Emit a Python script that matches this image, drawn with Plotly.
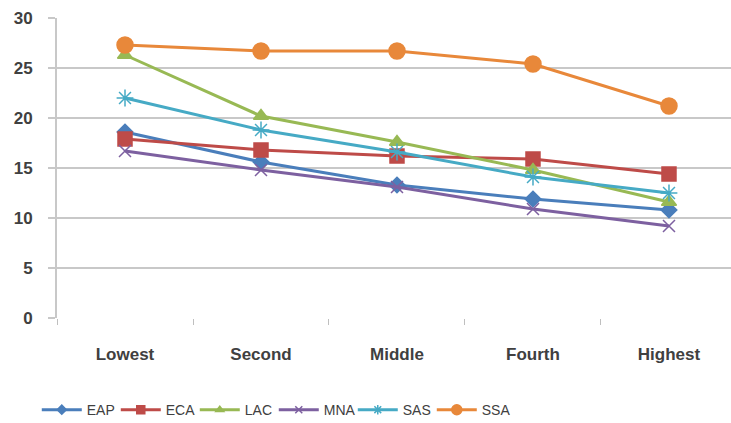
import plotly.graph_objects as go

quintiles = ["Lowest", "Second", "Middle", "Fourth", "Highest"]

eap = [18.6, 15.6, 13.3, 11.9, 10.8]
eca = [17.9, 16.8, 16.2, 15.9, 14.4]
lac = [26.3, 20.2, 17.6, 14.8, 11.6]
mna = [16.7, 14.8, 13.1, 10.9, 9.2]
sas = [22.0, 18.8, 16.6, 14.1, 12.5]
ssa = [27.3, 26.7, 26.7, 25.4, 21.2]

y_ticks = [0, 5, 10, 15, 20, 25, 30]

series = [
    ("EAP", eap, "#4A7EBB", "diamond", 12),
    ("ECA", eca, "#BE4B48", "square", 14),
    ("LAC", lac, "#98B954", "triangle-up", 13),
    ("MNA", mna, "#7D60A0", "x-thin-open", 12),
    ("SAS", sas, "#46AAC5", "asterisk-open", 14),
    ("SSA", ssa, "#E8883A", "circle", 16),
]

fig = go.Figure()
for name, vals, color, symbol, size in series:
    # plotted series
    fig.add_trace(go.Scatter(
        x=quintiles, y=vals, name=name, mode="lines+markers",
        legendgroup=name, showlegend=False,
        line=dict(color=color, width=3),
        marker=dict(symbol=symbol, size=size, color=color,
                    line=dict(color=color, width=1.5)),
    ))
    # legend entry with a smaller marker
    fig.add_trace(go.Scatter(
        x=[None], y=[None], name=name, mode="lines+markers",
        legendgroup=name, showlegend=True,
        line=dict(color=color, width=3),
        marker=dict(symbol=symbol, size=max(size - 6, 7), color=color,
                    line=dict(color=color, width=1.5)),
    ))

label_font = dict(family="Liberation Sans", size=17, color="#404040", weight="bold")

fig.update_layout(
    width=731, height=423,
    margin=dict(l=57, r=0, t=18, b=105, autoexpand=False),
    paper_bgcolor="white", plot_bgcolor="white",
    font=dict(family="Liberation Sans", color="#404040"),
    showlegend=True,
    legend=dict(
        orientation="h", x=-0.03, xanchor="left", y=-0.307, yanchor="middle",
        font=dict(family="Liberation Sans Narrow, Liberation Sans", size=14, color="#404040"),
        entrywidth=24, entrywidthmode="pixels", itemwidth=40,
        bgcolor="rgba(0,0,0,0)",
    ),
    xaxis=dict(
        type="category", range=[-0.5, 4.456],
        showgrid=False, zeroline=False,
        showline=False,
        ticks="outside", tickson="boundaries", ticklen=6, tickcolor="#bfbfbf",
        tickfont=label_font,
        ticklabelstandoff=24,
        automargin=False,
    ),
    yaxis=dict(
        range=[0, 30], tickvals=y_ticks,
        showgrid=True, gridcolor="#c8c8c8", gridwidth=2,
        zeroline=False,
        showline=True, linecolor="#c8c8c8", linewidth=2,
        ticks="outside", ticklen=7, tickcolor="#c8c8c8", tickwidth=2,
        tickfont=label_font,
        ticklabelstandoff=12,
        automargin=False,
    ),
)

fig.write_html("out.html")
